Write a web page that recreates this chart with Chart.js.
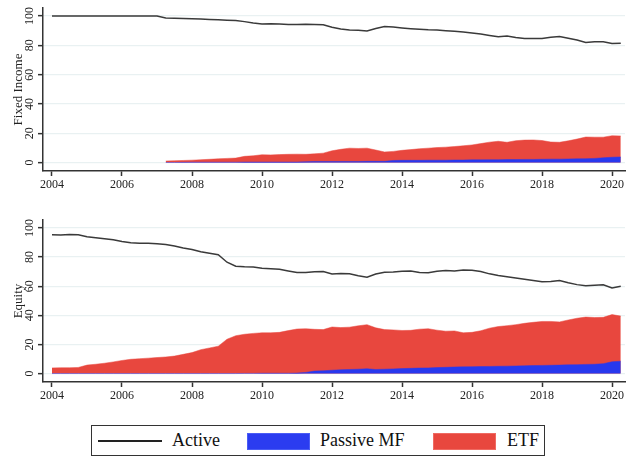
<!DOCTYPE html>
<html>
<head>
<meta charset="utf-8">
<title>Active, Passive MF and ETF shares</title>
<script src="https://cdn.jsdelivr.net/npm/chart.js@4.4.0/dist/chart.umd.min.js"></script>
<style>
body { margin: 0; background: #fff; width: 629px; height: 458px; position: relative; overflow: hidden;
       font-family: "Liberation Serif", "DejaVu Serif", serif; }
#top_wrap { position: absolute; left: 0; top: 0; }
#bottom_wrap { position: absolute; left: 0; top: 205px; }
#legend { position: absolute; left: 91px; top: 425px; width: 452px; height: 29px; border: 1.5px solid #333; }
#legend div { position: absolute; }
#legend .txt { top: 0; line-height: 29px; font-size: 18px; color: #111; }
#legend .box { top: 6.5px; width: 63px; height: 17px; }
</style>
</head>
<body>
<div id="top_wrap"><canvas id="fixed_income" width="629" height="200"></canvas></div>
<div id="bottom_wrap"><canvas id="equity" width="629" height="206"></canvas></div>
<div id="legend">
	<div style="left:5.5px; top:14px; width:64px; height:1.5px; background:#222;"></div>
	<div class="txt" style="left:80px;">Active</div>
	<div class="box" style="left:154.5px; background:#2b3cf0; box-shadow: inset 0 0 0 1px #4a5cf5;"></div>
	<div class="txt" style="left:228px;">Passive MF</div>
	<div class="box" style="left:341px; background:#e8473e; box-shadow: inset 0 0 0 1px #ef6a62;"></div>
	<div class="txt" style="left:415px;">ETF</div>
</div>

<script>
// quarterly observations, first one is 2004Q1
var start_year = 2004;
var per_year = 4;
var year_ticks = [2004, 2006, 2008, 2010, 2012, 2014, 2016, 2018, 2020];
var value_ticks = [0, 20, 40, 60, 80, 100];

// Fixed income (percent of assets); ETF values are the top of the red area (ETF + Passive MF)
var fi_active = [100, 100, 100, 100, 100, 100, 100, 100, 100, 100, 100, 100, 100,
	98.6, 98.5, 98.4, 98.2, 98.0, 97.7, 97.4, 97.2, 97.0, 96.2, 95.2, 94.6, 94.7, 94.6, 94.3,
	94.2, 94.4, 94.3, 94.0, 92.3, 91.2, 90.4, 90.3, 89.8, 91.5, 92.8, 92.5, 91.9, 91.4, 91.0,
	90.6, 90.4, 90.0, 89.6, 89.1, 88.5, 87.7, 86.8, 85.8, 86.3, 85.3, 84.7, 84.6, 84.6, 85.5,
	86.0, 84.9, 83.6, 81.9, 82.4, 82.4, 81.2, 81.5];
var fi_passive = [null, null, null, null, null, null, null, null, null, null, null, null, null,
	0.0, 0.0, 0.1, 0.2, 0.2, 0.2, 0.2, 0.2, 0.2, 0.3, 0.3, 0.3, 0.3, 0.3, 0.3,
	0.3, 0.5, 0.7, 0.7, 0.7, 0.7, 0.7, 0.7, 0.8, 0.8, 0.8, 1.4, 1.5, 1.5, 1.5,
	1.6, 1.6, 1.6, 1.7, 1.7, 1.8, 1.8, 1.9, 1.9, 2.0, 2.0, 2.1, 2.1, 2.2, 2.3,
	2.3, 2.4, 2.5, 2.6, 2.8, 3.2, 3.6, 3.8];
var fi_etf = [null, null, null, null, null, null, null, null, null, null, null, null, null,
	1.0, 1.2, 1.4, 1.6, 1.9, 2.2, 2.5, 2.8, 3.0, 4.2, 4.6, 5.3, 5.2, 5.4, 5.6,
	5.7, 5.6, 5.9, 6.4, 8.0, 9.0, 9.8, 9.6, 9.8, 8.5, 7.2, 7.6, 8.3, 8.8, 9.4,
	9.8, 10.2, 10.5, 10.9, 11.4, 12.0, 12.9, 13.9, 14.5, 13.8, 14.9, 15.3, 15.4, 15.0, 14.0,
	13.8, 14.8, 16.0, 17.4, 17.3, 17.3, 18.3, 18.1];

// Equity
var eq_active = [95.4, 95.2, 95.6, 95.3, 94.0, 93.3, 92.6, 92.0, 90.8, 89.9, 89.6, 89.5,
	89.2, 88.6, 87.6, 86.3, 85.3, 83.7, 82.6, 81.6, 76.5, 73.8, 73.3, 73.2,
	72.4, 72.0, 71.6, 70.5, 69.4, 69.5, 70.0, 70.1, 68.4, 68.8, 68.5, 67.2,
	66.2, 68.4, 69.6, 69.8, 70.3, 70.4, 69.5, 69.2, 70.3, 70.8, 70.5, 71.2,
	70.9, 70.1, 68.5, 67.3, 66.5, 65.6, 64.8, 64.0, 63.1, 63.2, 63.9, 62.4,
	61.1, 60.3, 60.6, 61.0, 58.8, 60.0];
var eq_passive = [0, 0, 0, 0, 0, 0, 0, 0, 0, 0, 0, 0,
	0, 0, 0, 0, 0, 0, 0, 0, 0, 0, 0.1, 0.1,
	0.2, 0.2, 0.2, 0.2, 0.3, 0.8, 1.7, 1.9, 2.3, 2.6, 2.8, 3.0,
	3.3, 2.8, 3.0, 3.2, 3.4, 3.6, 3.8, 3.9, 4.1, 4.3, 4.5, 4.6,
	4.7, 4.8, 4.9, 5.0, 5.1, 5.2, 5.3, 5.5, 5.6, 5.7, 5.8, 6.0,
	6.1, 6.3, 6.4, 6.8, 8.1, 8.5];
var eq_etf = [3.9, 4.0, 4.0, 4.2, 5.8, 6.4, 7.1, 8.0, 9.0, 9.8, 10.2, 10.6,
	11.0, 11.4, 12.0, 13.2, 14.4, 16.4, 17.6, 18.8, 23.6, 26.0, 27.0, 27.6,
	28.0, 28.0, 28.3, 29.5, 30.6, 30.8, 30.4, 30.2, 32.0, 31.6, 31.9, 32.8,
	33.6, 31.4, 30.2, 30.0, 29.6, 29.7, 30.5, 30.8, 29.8, 29.1, 29.3, 28.0,
	28.3, 29.4, 31.2, 32.3, 32.9, 33.6, 34.5, 35.2, 35.8, 35.8, 35.5, 36.8,
	38.0, 38.8, 38.5, 38.6, 40.5, 39.5];

var serif = '"Liberation Serif", "DejaVu Serif", serif';
var active_color = '#3a3a3a';
var passive_color = '#2838ee';
var etf_color = '#e8473e';

function to_points(values) {
	var points = [];
	for (var i = 0; i < values.length; i++) {
		points.push({ x: start_year + i / per_year, y: values[i] });
	}
	return points;
}

// y tick labels in Stata are turned 90 degrees, chart.js only rotates horizontal scales
var rotated_y_labels = {
	id: 'rotated_y_labels',
	afterDraw: function(chart) {
		var scale = chart.scales.y;
		var ctx = chart.ctx;
		ctx.save();
		ctx.fillStyle = '#222';
		ctx.font = '12px ' + serif;
		ctx.textAlign = 'center';
		ctx.textBaseline = 'middle';
		scale.ticks.forEach(function(tick) {
			ctx.save();
			ctx.translate(30, scale.getPixelForValue(tick.value));
			ctx.rotate(-Math.PI / 2);
			ctx.fillText(String(tick.value), 0, 0);
			ctx.restore();
		});
		ctx.restore();
	}
};

function make_chart(canvas_id, title, top_pad, active, passive, etf) {
	return new Chart(document.getElementById(canvas_id), {
		type: 'line',
		data: {
			datasets: [
				{ label: 'Active', data: to_points(active), borderColor: active_color, borderWidth: 1.5, fill: false },
				{ label: 'Passive MF', data: to_points(passive), borderColor: passive_color, backgroundColor: passive_color, borderWidth: 0.5, fill: 'origin' },
				{ label: 'ETF', data: to_points(etf), borderColor: etf_color, backgroundColor: etf_color, borderWidth: 0.5, fill: 'origin' }
			]
		},
		options: {
			responsive: false,
			animation: false,
			layout: { padding: { top: top_pad, right: 4, left: 0, bottom: 0 } },
			elements: { point: { radius: 0 }, line: { tension: 0 } },
			plugins: { legend: { display: false }, tooltip: { enabled: false } },
			scales: {
				x: {
					type: 'linear',
					min: 2003.743,
					max: 2020.371,
					afterBuildTicks: function(scale) {
						scale.ticks = year_ticks.map(function(v) { return { value: v }; });
					},
					afterFit: function(scale) { scale.height = 29; },
					grid: { drawOnChartArea: false, tickLength: 5, tickColor: '#333', tickWidth: 1.5 },
					border: { display: true, color: '#333', width: 1.5 },
					ticks: {
						color: '#222', padding: 2, maxRotation: 0, autoSkip: false,
						font: { family: serif, size: 12 },
						callback: function(v) { return String(v); }
					}
				},
				y: {
					min: -5.8,
					max: 105.5,
					afterBuildTicks: function(scale) {
						scale.ticks = value_ticks.map(function(v) { return { value: v }; });
					},
					afterFit: function(scale) { scale.width = 43; },
					grid: { color: '#e9f1f2', lineWidth: 1.3, tickLength: 5, tickColor: '#333', tickWidth: 1.5 },
					border: { display: true, color: '#333', width: 1.5 },
					ticks: { display: false },
					title: {
						display: true, text: title, color: '#222',
						font: { family: serif, size: 13 },
						padding: { top: 11, bottom: 0 }
					}
				}
			}
		},
		plugins: [rotated_y_labels]
	});
}

make_chart('fixed_income', 'Fixed Income', 8, fi_active, fi_passive, fi_etf);
make_chart('equity', 'Equity', 15, eq_active, eq_passive, eq_etf);
</script>
</body>
</html>
